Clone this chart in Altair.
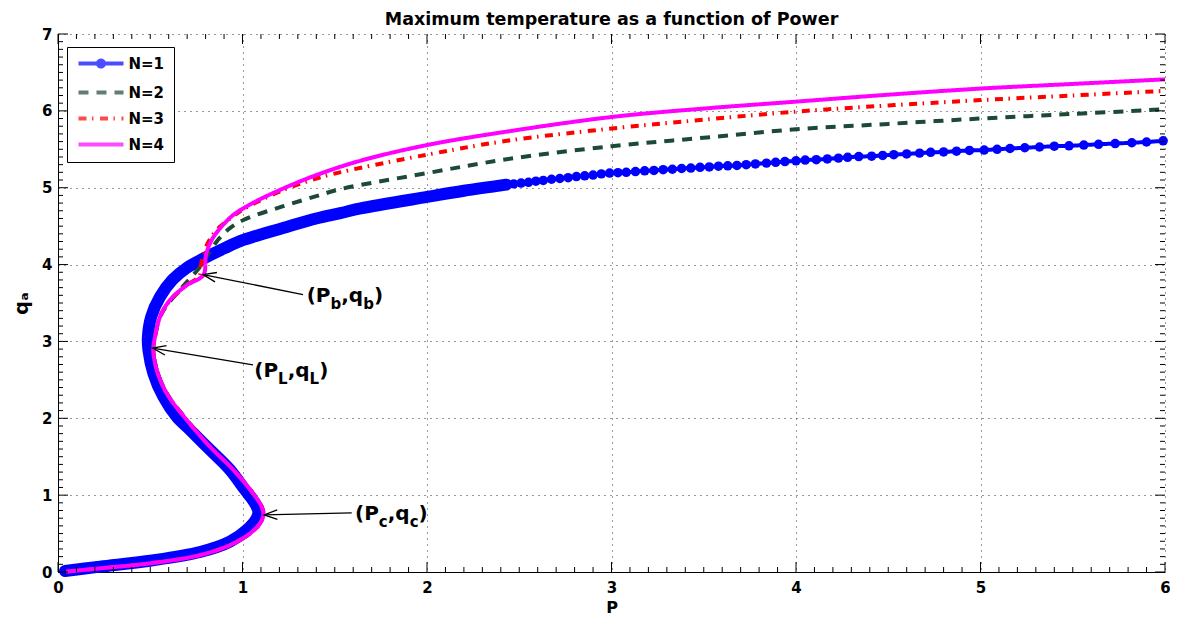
import math
import altair as alt
import pandas as pd

# ------------------------------------------------------------------
# Values
# ------------------------------------------------------------------
SERIES = ["N=1", "N=2", "N=3", "N=4"]
COLORS = ["#0000ff", "#1d4a35", "#ff0000", "#ff00ff"]

# N=1: part of the curve where the markers merge into a solid band (curve order)
P1_BAND = [0.038, 0.228, 0.499, 0.77, 0.932, 1.023, 1.077, 1.086, 1.062, 1.014,
           0.932, 0.824, 0.715, 0.643, 0.571, 0.517, 0.490, 0.487, 0.505, 0.553,
           0.62, 0.70, 0.79, 0.90, 1.005, 1.24, 1.40, 1.53, 1.64, 2.00, 2.20, 2.43]
Q1_BAND = [0.013, 0.07, 0.147, 0.26, 0.395, 0.547, 0.70, 0.785, 0.915, 1.067,
           1.33, 1.59, 1.85, 2.02, 2.28, 2.585, 2.89, 3.05, 3.32, 3.58,
           3.80, 3.96, 4.08, 4.21, 4.32, 4.49, 4.60, 4.67, 4.73, 4.88, 4.96, 5.04]

# N=1: individually visible markers
P1_MARK = [2.47, 2.51, 2.55, 2.59, 2.63, 2.675, 2.72, 2.765, 2.81, 2.855, 2.90, 2.945,
           2.99, 3.035, 3.08, 3.13, 3.18, 3.23, 3.28, 3.33, 3.38, 3.43, 3.48, 3.53,
           3.58, 3.63, 3.68,
           3.73, 3.78, 3.84, 3.89, 3.94, 4.00, 4.05, 4.11, 4.17, 4.23, 4.28, 4.34,
           4.41, 4.47, 4.53, 4.60, 4.67, 4.73, 4.80, 4.87, 4.94, 5.02, 5.09, 5.16,
           5.24, 5.32, 5.40, 5.48, 5.56, 5.64, 5.73, 5.82, 5.90, 5.99]
Q1_MARK = [5.05, 5.06, 5.07, 5.085, 5.095, 5.11, 5.12, 5.13, 5.145, 5.155, 5.165, 5.18,
           5.19, 5.195, 5.20, 5.21, 5.22, 5.225, 5.235, 5.24, 5.25, 5.255, 5.265, 5.27,
           5.28, 5.285, 5.29,
           5.30, 5.31, 5.32, 5.33, 5.34, 5.35, 5.36, 5.365, 5.375, 5.385, 5.395, 5.405,
           5.41, 5.42, 5.43, 5.44, 5.45, 5.46, 5.465, 5.475, 5.485, 5.49, 5.50, 5.51,
           5.52, 5.53, 5.54, 5.545, 5.555, 5.565, 5.575, 5.585, 5.595, 5.61]

# lower S branch shared by N=2..4
LOWER_P = [0.045, 0.228, 0.499, 0.77, 0.932, 1.04, 1.095, 1.113, 1.104, 1.05,
           0.95, 0.824, 0.697, 0.589, 0.535, 0.517, 0.526, 0.553]
LOWER_Q = [0.005, 0.048, 0.113, 0.22, 0.35, 0.50, 0.634, 0.742, 0.85, 1.045,
           1.33, 1.63, 1.98, 2.325, 2.63, 2.89, 3.06, 3.32]

P2_UP = [0.60, 0.66, 0.72, 0.77, 0.81, 0.87, 0.93, 1.005, 1.221, 1.40, 1.528, 2.0,
         2.432, 3.0, 3.5, 4.0, 4.5, 5.0, 5.5, 6.0]
Q2_UP = [3.50, 3.67, 3.83, 3.97, 4.12, 4.33, 4.47, 4.58, 4.76, 4.89, 4.98, 5.19,
         5.37, 5.54, 5.65, 5.76, 5.83, 5.90, 5.96, 6.02]

P3_UP = [0.60, 0.69, 0.765, 0.775, 0.80, 0.86, 0.95, 1.005, 1.221, 1.40, 1.528, 2.0,
         2.432, 3.0, 3.5, 4.0, 4.5, 5.0, 5.5, 6.0]
Q3_UP = [3.51, 3.72, 3.85, 4.00, 4.22, 4.45, 4.63, 4.72, 4.97, 5.12, 5.20, 5.43,
         5.61, 5.77, 5.885, 5.99, 6.07, 6.14, 6.20, 6.26]

P4_UP = [0.607, 0.697, 0.788, 0.802, 0.833, 0.878, 0.95, 1.059, 1.221, 1.402, 1.637,
         2.0, 2.432, 3.0, 3.5, 4.0, 4.5, 5.0, 5.5, 6.0]
Q4_UP = [3.54, 3.73, 3.865, 4.125, 4.32, 4.47, 4.645, 4.805, 4.99, 5.166, 5.35,
         5.555, 5.73, 5.92, 6.03, 6.12, 6.21, 6.29, 6.35, 6.41]

# annotations: (P_x, q_x) labels with arrows
ANN_SUB = ["b", "L", "c"]
ANN_TIP_P = [0.786, 0.513, 1.117]
ANN_TIP_Q = [3.87, 2.913, 0.742]
ANN_TAIL_P = [1.328, 1.057, 1.592]
ANN_TAIL_Q = [3.61, 2.695, 0.768]
ANN_TEXT_P = [1.348, 1.064, 1.61]
ANN_TEXT_Q = [3.517, 2.541, 0.677]

X_TICKS = [0, 1, 2, 3, 4, 5, 6]
Y_TICKS = [0, 1, 2, 3, 4, 5, 6, 7]

TITLE = "Maximum temperature as a function of Power"
X_TITLE = "P"
Y_TITLE = "qₐ"

# ------------------------------------------------------------------
# Layout / style
# ------------------------------------------------------------------
W, H = 1107, 538
FONT = "DejaVu Sans"
DASHES = [[1, 0], [10, 8], [8, 5.5, 1.5, 6.5], [1, 0]]
# legend symbols: unit = sqrt(100)/2 = 5 px, so +-4.5 units = 45 px long line
LEG_SHAPES = ["M-4.5,0L4.5,0M0.6,0A0.6,0.6,0,1,1,-0.6,0A0.6,0.6,0,1,1,0.6,0Z",
              "M-4.5,0L4.5,0", "M-4.5,0L4.5,0", "M-4.5,0L4.5,0"]
ARROW_HEAD = "M1,-0.36L0,0L1,0.36"

xs = alt.Scale(domain=[0, 6], nice=False, zero=False)
ys = alt.Scale(domain=[0, 7], nice=False, zero=False)

AX = dict(grid=True, gridDash=[1, 5], gridColor="#333333", gridWidth=1, gridOpacity=1,
          ticks=False, tickSize=0, domain=True, domainColor="black", domainWidth=1,
          labelFont=FONT, labelFontSize=15, labelFontWeight="bold", labelColor="black",
          labelFlush=False, labelOverlap=False,
          titleFont=FONT, titleFontWeight="bold", titleColor="black")
x_axis = alt.Axis(values=X_TICKS, title=X_TITLE, labelPadding=8, titlePadding=4,
                  titleFontSize=16, **AX)
y_axis = alt.Axis(values=Y_TICKS, title=Y_TITLE, labelPadding=6, titlePadding=10,
                  titleFontSize=19, **AX)


def X(f):
    return alt.X(f, type="quantitative", scale=xs, axis=x_axis)


def Y(f):
    return alt.Y(f, type="quantitative", scale=ys, axis=y_axis)


LEG = alt.Legend(title=None, orient="none", legendX=9, legendY=13,
                 symbolSize=100, symbolStrokeWidth=4, symbolFillColor="#0000ff",
                 symbolOffset=17.5,
                 labelFont=FONT, labelFontSize=15, labelFontWeight="bold",
                 labelColor="black", labelOffset=20, padding=9, rowPadding=9,
                 strokeColor="black", fillColor="white", cornerRadius=0)

COLOR_ENC = alt.Color("N:N", scale=alt.Scale(domain=SERIES, range=COLORS), legend=LEG)
DASH_ENC = alt.StrokeDash("N:N", scale=alt.Scale(domain=SERIES, range=DASHES), legend=LEG)
SHAPE_ENC = alt.Shape("N:N", scale=alt.Scale(domain=SERIES, range=LEG_SHAPES), legend=LEG)
WIDTH_ENC = alt.StrokeWidth("N:N", scale=alt.Scale(domain=SERIES, range=[4, 4, 4, 5]),
                            legend=None)


def series_df(name, P, Q):
    return pd.DataFrame({"N": name, "P": P, "q": Q, "i": list(range(len(P)))})


n1 = series_df("N=1", P1_BAND + P1_MARK, Q1_BAND + Q1_MARK)
n2 = series_df("N=2", LOWER_P + P2_UP, LOWER_Q + Q2_UP)
n3 = series_df("N=3", LOWER_P + P3_UP, LOWER_Q + Q3_UP)
n4 = series_df("N=4", LOWER_P + P4_UP, LOWER_Q + Q4_UP)
band_df = series_df("N=1", P1_BAND, Q1_BAND)
mark_df = pd.DataFrame({"P": P1_MARK, "q": Q1_MARK})

layers = []

# tiny helper (hidden under the band) that gives the legend its symbols
dummy = pd.DataFrame({"N": SERIES, "P": [LOWER_P[0]] * 4, "q": [LOWER_Q[0]] * 4})
layers.append(alt.Chart(dummy).mark_point(size=1, filled=False).encode(
    x=X("P"), y=Y("q"), color=COLOR_ENC, shape=SHAPE_ENC))

# thick band where N=1 markers overlap
layers.append(alt.Chart(band_df).mark_line(
    interpolate="catmull-rom", strokeWidth=12, strokeCap="round", strokeJoin="round",
    color="#0000ff").encode(x=X("P"), y=Y("q"), order=alt.Order("i:Q")))

for df in (n1, n2, n3, n4):
    layers.append(alt.Chart(df).mark_line(interpolate="catmull-rom").encode(
        x=X("P"), y=Y("q"), order=alt.Order("i:Q"),
        color=COLOR_ENC, strokeDash=DASH_ENC, strokeWidth=WIDTH_ENC))
    if df is n1:
        layers.append(alt.Chart(mark_df).mark_circle(size=90, color="#0000ff", opacity=1)
                      .encode(x=X("P"), y=Y("q")))

# inward ticks on all four sides
x_minor = [round(k * 0.1, 1) for k in range(61) if k % 10]
y_minor = [round(k * 0.1, 1) for k in range(71) if k % 10]
for vals, L in ((X_TICKS, 10), (x_minor, 5)):
    d = pd.DataFrame({"v": vals})
    layers.append(alt.Chart(d).mark_rule(color="black", strokeWidth=1).encode(
        x=X("v"), y=alt.value(H), y2=alt.value(H - L)))
    layers.append(alt.Chart(d).mark_rule(color="black", strokeWidth=1).encode(
        x=X("v"), y=alt.value(0), y2=alt.value(L)))
for vals, L in ((Y_TICKS, 10), (y_minor, 5)):
    d = pd.DataFrame({"v": vals})
    layers.append(alt.Chart(d).mark_rule(color="black", strokeWidth=1).encode(
        y=Y("v"), x=alt.value(0), x2=alt.value(L)))
    layers.append(alt.Chart(d).mark_rule(color="black", strokeWidth=1).encode(
        y=Y("v"), x=alt.value(W - L), x2=alt.value(W)))

# annotation arrows
sx, sy = W / 6.0, H / 7.0
angles = [math.degrees(math.atan2(-(tq - hq) * sy, (tp - hp) * sx)) % 360
          for hp, hq, tp, tq in zip(ANN_TIP_P, ANN_TIP_Q, ANN_TAIL_P, ANN_TAIL_Q)]
ann = pd.DataFrame({"tipP": ANN_TIP_P, "tipQ": ANN_TIP_Q,
                    "tailP": ANN_TAIL_P, "tailQ": ANN_TAIL_Q, "ang": angles})
layers.append(alt.Chart(ann).mark_rule(color="black", strokeWidth=1.3).encode(
    x=X("tailP"), y=Y("tailQ"), x2=alt.X2("tipP"), y2=alt.Y2("tipQ")))
layers.append(alt.Chart(ann).mark_point(shape=ARROW_HEAD, size=700, filled=False,
                                        strokeWidth=1.3, color="black", opacity=1).encode(
    x=X("tipP"), y=Y("tipQ"), angle=alt.Angle("ang:Q", scale=None)))

# annotation labels with subscripts
W_EM = {"(": 0.457, ")": 0.457, "P": 0.733, ",": 0.380, "q": 0.716,
        "b": 0.716, "L": 0.637, "c": 0.593}
MAIN, SUB, DROP = 20, 15, 7
for j, sub in enumerate(ANN_SUB):
    dfj = pd.DataFrame({"P": [ANN_TEXT_P[j]], "q": [ANN_TEXT_Q[j]]})
    dx = 0.0
    for ch, is_sub in (("(", 0), ("P", 0), (sub, 1), (",", 0), ("q", 0), (sub, 1), (")", 0)):
        fs = SUB if is_sub else MAIN
        layers.append(alt.Chart(dfj).mark_text(
            text=ch, align="left", baseline="alphabetic", dx=dx, dy=DROP if is_sub else 0,
            font=FONT, fontSize=fs, fontWeight="bold", color="black").encode(
            x=X("P"), y=Y("q")))
        dx += W_EM[ch] * fs

chart = alt.layer(*layers).properties(
    width=W, height=H,
    title=alt.TitleParams(TITLE, font=FONT, fontSize=17.5, fontWeight="bold", color="black",
                          anchor="middle", offset=0, dy=15, baseline="alphabetic"),
    padding={"left": 50, "top": 26, "right": 5, "bottom": 43},
    autosize=alt.AutoSizeParams(type="none"),
).configure_view(stroke=None)

chart.save("out.html", embed_options={"renderer": "svg", "actions": False})
